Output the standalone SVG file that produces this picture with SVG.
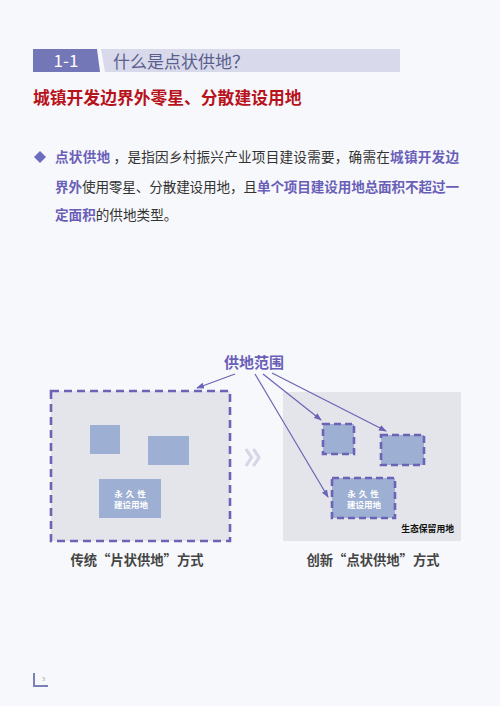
<svg xmlns="http://www.w3.org/2000/svg" width="500" height="706" viewBox="0 0 500 706">
<defs>
<style>
.cjk{font-family:"Noto Sans CJK SC","Noto Sans",sans-serif}
.b{font-weight:bold}
.p{fill:#6a5fb8;font-weight:bold}
.n{fill:#333}
.plot{fill:#9dafd3}
.dash{fill:none;stroke:#6b63b5;stroke-width:2.6;stroke-dasharray:8 5}
.dashp{fill:#9dafd3;stroke:#6b63b5;stroke-width:2.6;stroke-dasharray:7 4}
.arr{fill:none;stroke:#6b63b5;stroke-width:1.2;marker-end:url(#ah)}
.lbl{font-size:8.5px;fill:#fff;font-weight:bold;text-anchor:middle}
.sp{letter-spacing:3px}
.chev{fill:none;stroke:#d5d6e6;stroke-width:3.2}
</style>
<marker id="ah" markerWidth="8" markerHeight="6" refX="7" refY="3" orient="auto" markerUnits="userSpaceOnUse">
<path d="M0,0 L8,3 L0,6 Z" fill="#6b63b5"/>
</marker>
</defs>
<rect width="500" height="706" fill="#f7f8fb"/>
<g id="header">
<polygon points="33,49 97,49 100,72 33,72" fill="#7377b7"/>
<polygon points="101,49 400,49 400,72 105,72" fill="#d8d9ea"/>
<text x="66" y="67" class="cjk" font-size="17" fill="#fff" text-anchor="middle">1-1</text>
<text x="113" y="68" class="cjk" font-size="17" fill="#5a5f8f">什么是点状供地？</text>
</g>
<g id="subtitle">
<text x="33" y="104" class="cjk b" font-size="16.8" fill="#b8121b">城镇开发边界外零星、分散建设用地</text>
</g>
<g id="paragraph" class="cjk" font-size="13.6">
<path d="M40,151 L46,157 L40,163 L34,157 Z" fill="#6c6cc0"/>
<text x="55" y="162" textLength="404" lengthAdjust="spacing"><tspan class="p">点状供地</tspan><tspan class="n"> ，是指因乡村振兴产业项目建设需要，确需在</tspan><tspan class="p">城镇开发边</tspan></text>
<text x="55" y="192" textLength="404" lengthAdjust="spacing"><tspan class="p">界外</tspan><tspan class="n">使用零星、分散建设用地，且</tspan><tspan class="p">单个项目建设用地总面积不超过一</tspan></text>
<text x="55" y="220"><tspan class="p">定面积</tspan><tspan class="n">的供地类型。</tspan></text>
</g>
<g id="label-scope">
<text x="254" y="368" class="cjk b" font-size="15" fill="#6a5fb8" text-anchor="middle">供地范围</text>
</g>
<g id="traditional">
<rect x="51" y="391" width="179" height="150" fill="#e4e5ea"/>
<rect x="51" y="391" width="179" height="150" class="dash"/>
<rect x="90" y="425" width="30" height="29" class="plot"/>
<rect x="148" y="436" width="41" height="29" class="plot"/>
<rect x="99" y="479" width="62" height="39" class="plot"/>
<text x="131.5" y="497" class="cjk lbl sp">永久性</text>
<text x="131" y="508" class="cjk lbl">建设用地</text>
<text x="137" y="565" class="cjk b" font-size="13.3" fill="#444" text-anchor="middle">传统“片状供地”方式</text>
</g>
<g id="chevron">
<polyline points="246,449 251.5,457.5 246,466" class="chev"/>
<polyline points="253.5,449 259,457.5 253.5,466" class="chev"/>
</g>
<g id="innovative">
<rect x="283" y="392" width="178" height="149" fill="#e4e5ea"/>
<rect x="323" y="424" width="31" height="30" class="dashp"/>
<rect x="381" y="435" width="43" height="30" class="dashp"/>
<rect x="332" y="478" width="63" height="40" class="dashp"/>
<text x="364.5" y="497" class="cjk lbl sp">永久性</text>
<text x="364" y="508" class="cjk lbl">建设用地</text>
<text x="454" y="532" class="cjk b" font-size="8.8" fill="#111" text-anchor="end">生态保留用地</text>
<text x="373" y="565" class="cjk b" font-size="13.3" fill="#444" text-anchor="middle">创新“点状供地”方式</text>
</g>
<g id="connectors">
<line x1="235" y1="374" x2="197" y2="388" class="arr"/>
<line x1="255" y1="374" x2="328" y2="497" class="arr"/>
<line x1="263" y1="374" x2="321" y2="420" class="arr"/>
<line x1="272" y1="373" x2="386" y2="431" class="arr"/>
</g>
<g id="page">
<path d="M34,673 L34,686 L48,686" fill="none" stroke="#7b80b8" stroke-width="2"/>
<text x="42" y="681" font-family="Liberation Serif,serif" font-size="6" fill="#999">3</text>
</g>
</svg>
